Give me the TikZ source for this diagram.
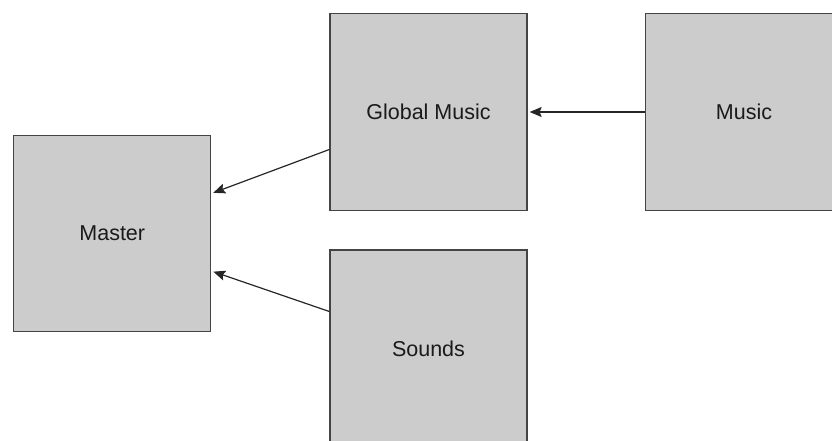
\documentclass[tikz,border=0pt]{standalone}
\usepackage{fontspec}
\setmainfont{Liberation Sans}
\usetikzlibrary{arrows.meta}
\definecolor{boxfill}{HTML}{CCCCCC}
\definecolor{boxline}{HTML}{444444}
\definecolor{txt}{HTML}{1A1A1A}
\tikzset{
  blk/.style={rectangle, draw=boxline, line width=1.3pt, fill=boxfill,
    minimum width=197pt, minimum height=197pt, inner sep=0pt,
    font=\fontsize{21.5}{25}\selectfont, text=txt},
  arr/.style={draw=black!85, line width=1.2pt,
    -{Stealth[length=12pt,width=10pt,inset=2pt]}, shorten >=2pt}
}
\begin{document}
\begin{tikzpicture}[x=1pt,y=-1pt]
\path[use as bounding box] (0,0) rectangle (832,441);
\begin{scope}
\clip (0,0) rectangle (832,441);
\node[blk, minimum height=196pt] (ms) at (112.25,233.5) {Master};
\node[blk] (gm) at (428.5,112) {Global Music};
\node[blk] (mu) at (744,112) {Music};
\node[blk] (so) at (428.5,348.5) {Sounds};
\end{scope}
\draw[arr] ([yshift=-37.5pt]gm.west) -- ([yshift=40pt]ms.east);
\draw[arr] ([yshift=37pt]so.west) -- ([yshift=-37.5pt]ms.east);
\draw[arr] (mu.west) -- (gm.east);
\end{tikzpicture}
\end{document}
